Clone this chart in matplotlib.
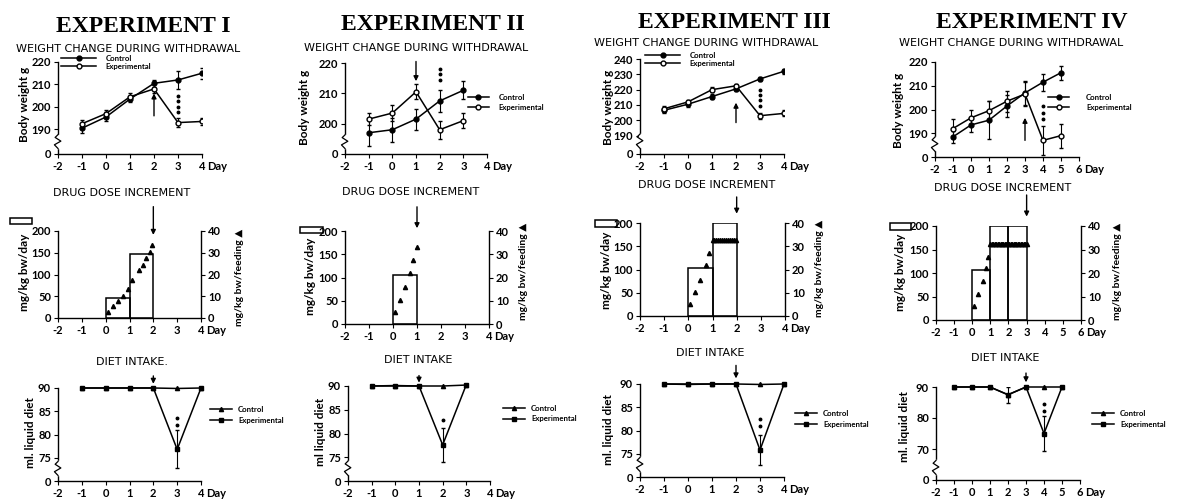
import matplotlib
matplotlib.use('Agg')
import matplotlib.pyplot as plt
from matplotlib.patches import Rectangle

W, H = 1178, 499
plt.rcParams['font.family'] = ['Lato', 'DejaVu Sans']
plt.rcParams['axes.unicode_minus'] = False

# ---------------- weight change during withdrawal (g) ----------------
wt_days_1 = [-1, 0, 1, 2, 3, 4]
wt_ctl_1 = [190.5, 195.5, 203.5, 210.5, 212, 215]
wt_ctl_err_1 = [2, 2, 1.5, 1.5, 4, 2.5]
wt_exp_1 = [192.5, 197, 204.5, 208, 193, 193.5]
wt_exp_err_1 = [1.5, 1.5, 1.5, 2, 2, 1.5]

wt_days_2 = [-1, 0, 1, 2, 3]
wt_ctl_2 = [197, 198, 201.5, 207.5, 211]
wt_ctl_err_2 = [4.5, 4, 3.5, 3.5, 3]
wt_exp_2 = [201.5, 203.5, 210.5, 198, 201]
wt_exp_err_2 = [2, 2.5, 2.5, 3, 2.5]

wt_days_3 = [-1, 0, 1, 2, 3, 4]
wt_ctl_3 = [206.5, 210.5, 215.5, 220.5, 227, 232]
wt_ctl_err_3 = [1.5, 1.5, 1.5, 1.5, 1.5, 1.5]
wt_exp_3 = [207.5, 212, 220, 222.5, 203, 204.5]
wt_exp_err_3 = [2, 1.5, 1.5, 1.5, 2, 2]

wt_days_4 = [-1, 0, 1, 2, 3, 4, 5]
wt_ctl_4 = [188.5, 193.5, 195.5, 201.5, 207, 211.5, 215.5]
wt_ctl_err_4 = [2.5, 3, 8, 4.5, 5, 3.5, 3]
wt_exp_4 = [192, 196.5, 199.5, 203.5, 206.5, 187, 189]
wt_exp_err_4 = [4, 3.5, 4, 4.5, 5, 6, 5]

wt_yticks_1 = [190, 200, 210, 220]
wt_yticks_2 = [200, 210, 220]
wt_yticks_3 = [190, 200, 210, 220, 230, 240]
wt_yticks_4 = [190, 200, 210, 220]

# significance marks (day, values) and withdrawal arrows (day, tail, tip)
wt_sig_day = [3, 2, 3, 4]
wt_sig_1 = [205, 202.5, 200, 197.5]
wt_sig_2 = [218, 216.3, 214.5]
wt_sig_3 = [220, 216.5, 213, 209.5]
wt_sig_4 = [201.5, 198.5, 196]
wt_arrow_1 = (2, 196, 206)
wt_arrow_2 = (1, 220.5, 214)
wt_arrow_3 = (2, 198.5, 211.5)
wt_arrow_4 = (3, 187, 196.5)

# ---------------- drug dose increment ----------------
dose_days_1 = [0, 1]
dose_bar_1 = [46, 148]
dose_tri_x_1 = [0.08, 0.3, 0.5, 0.72, 0.95, 1.1, 1.4, 1.55, 1.7, 1.85, 1.95]
dose_tri_y_1 = [2.6, 5.3, 7.6, 10.2, 13.5, 17.5, 22, 24.5, 27.5, 30.5, 33.5]
dose_plat_x_1 = []

dose_days_2 = [0]
dose_bar_2 = [105]
dose_tri_x_2 = [0.07, 0.29, 0.5, 0.7, 0.84, 1.0]
dose_tri_y_2 = [5, 10.5, 16, 22, 27.5, 33]
dose_plat_x_2 = []

dose_days_3 = [0, 1]
dose_bar_3 = [104, 200]
dose_tri_x_3 = [0.05, 0.28, 0.5, 0.72, 0.87]
dose_tri_y_3 = [5, 10.5, 15.5, 22, 27]
dose_plat_x_3 = [1.0, 1.08, 1.16, 1.24, 1.32, 1.4, 1.48, 1.56, 1.64, 1.72,
                 1.8, 1.88, 1.96]

dose_days_4 = [0, 1, 2]
dose_bar_4 = [106, 200, 200]
dose_tri_x_4 = [0.09, 0.31, 0.57, 0.75, 0.88]
dose_tri_y_4 = [6, 11, 16.5, 22, 27]
dose_plat_x_4 = [1.0, 1.08, 1.16, 1.24, 1.32, 1.4, 1.48, 1.56, 1.64, 1.72,
                 1.8, 1.88, 1.96, 2.04, 2.12, 2.2, 2.28, 2.36, 2.44, 2.52,
                 2.6, 2.68, 2.76, 2.84, 2.92, 3.0]
dose_plateau = 32.5

dose_arrow_1 = (2, 256, 191)
dose_arrow_2 = (1, 252, 206)
dose_arrow_3 = (2, 256, 220)
dose_arrow_4 = (3, 266, 220)

# ---------------- diet intake (ml) ----------------
diet_days_1 = [-1, 0, 1, 2, 3, 4]
diet_ctl_1 = [90, 90, 90, 90, 89.9, 90]
diet_exp_1 = [90, 90, 90, 90, 76.8, 90]
diet_exp_err_1 = [0, 0, 0, 0, 4.1, 0]

diet_days_2 = [-1, 0, 1, 2, 3]
diet_ctl_2 = [90, 90, 90, 90, 90.2]
diet_exp_2 = [90, 90.1, 90, 77.6, 90.3]
diet_exp_err_2 = [0, 0, 0, 3.5, 0]

diet_days_3 = [-1, 0, 1, 2, 3, 4]
diet_ctl_3 = [90, 89.9, 90, 90, 89.9, 90]
diet_exp_3 = [90, 90, 90, 90, 75.8, 90]
diet_exp_err_3 = [0, 0, 0, 0, 3.3, 0]

diet_days_4 = [-1, 0, 1, 2, 3, 4, 5]
diet_ctl_4 = [90, 90, 90, 87.5, 90, 90, 90]
diet_exp_4 = [90, 90, 90, 87.5, 90, 75, 90]
diet_exp_err_4 = [0, 0, 0, 2.5, 0, 5.5, 0]

diet_yticks_1 = [75, 80, 85, 90]
diet_yticks_4 = [70, 80, 90]

diet_sig_day = [3, 2, 3, 4]
diet_sig_1 = [83.5, 82]
diet_sig_2 = [82.8]
diet_sig_3 = [82.5, 81]
diet_sig_4 = [84.5, 82.2]
diet_arrow_1 = (2, 92.6, 90.9)
diet_arrow_2 = (1, 92.2, 90.7)
diet_arrow_3 = (2, 94, 91.2)
diet_arrow_4 = (3, 94.5, 91.5)

titles = ['EXPERIMENT I', 'EXPERIMENT II', 'EXPERIMENT III', 'EXPERIMENT IV']

TICK_FS = 8


def px_axes(fig, left, right, top, bottom):
    return fig.add_axes([left / W, 1 - bottom / H, (right - left) / W, (bottom - top) / H])


def fig_text(fig, x, y, s, **kw):
    fig.text(x / W, 1 - y / H, s, **kw)


def axis_break(ax):
    # little squiggle on the y spine between 0 and the first value
    ax.plot([0, 0], [0.08, 0.2], transform=ax.transAxes, color='white', lw=2.5,
            clip_on=False, zorder=5)
    ax.plot([0, -0.025, 0.02, -0.02, 0], [0.06, 0.1, 0.14, 0.18, 0.21],
            transform=ax.transAxes, color='k', lw=0.9, clip_on=False, zorder=6)


def style_axes(ax, xmax):
    ax.set_xlim(-2, xmax)
    ax.set_xticks(range(-2, xmax + 1))
    ax.spines['top'].set_visible(False)
    ax.spines['right'].set_visible(False)
    for s in ('left', 'bottom'):
        ax.spines[s].set_linewidth(1.0)
    ax.tick_params(direction='out', length=3, width=0.8, labelsize=TICK_FS, pad=2)
    for lab in ax.get_xticklabels() + ax.get_yticklabels():
        lab.set_fontweight('bold')
    ax.annotate('Day', xy=(1, 0), xycoords='axes fraction', xytext=(4, -5),
                textcoords='offset points', ha='left', va='top', fontsize=TICK_FS,
                fontweight='bold')


def draw_arrow(ax, arrow):
    x, tail, tip = arrow
    ax.annotate('', xy=(x, tip), xytext=(x, tail),
                arrowprops=dict(arrowstyle='-|>', lw=1.0, color='k', mutation_scale=7,
                                shrinkA=0, shrinkB=0),
                annotation_clip=False)


def weight_panel(fig, box, days, ctl, ctl_err, exp, exp_err, floor, top, yticks,
                 xmax, sig_day, sig, arrow, leg_xy, leg_kw):
    ax = px_axes(fig, *box)
    ax.errorbar(days, ctl, yerr=ctl_err, fmt='none', ecolor='k', elinewidth=0.8, capsize=1.5)
    ax.errorbar(days, exp, yerr=exp_err, fmt='none', ecolor='k', elinewidth=0.8, capsize=1.5)
    l1, = ax.plot(days, ctl, '-o', color='k', lw=1.1, ms=3.5, mfc='k', label='Control')
    l2, = ax.plot(days, exp, '-o', color='k', lw=1.1, ms=3.5, mfc='white',
                  label='Experimental', zorder=3)
    ax.plot([sig_day] * len(sig), sig, 'o', color='k', ms=1.8)
    draw_arrow(ax, arrow)
    ax.set_ylim(floor, top)
    ax.set_yticks([floor] + yticks, ['0'] + [str(t) for t in yticks])
    style_axes(ax, xmax)
    axis_break(ax)
    ax.legend(handles=[l1, l2], loc='upper left', bbox_to_anchor=(leg_xy[0] / W, 1 - leg_xy[1] / H),
              bbox_transform=fig.transFigure, frameon=False, borderpad=0, borderaxespad=0,
              numpoints=1, prop={'size': 5.6, 'weight': 'bold'}, **leg_kw)
    return ax


def dose_panel(fig, box, days, bars, tri_x, tri_y, plat_x, xmax, arrow):
    ax = px_axes(fig, *box)
    ax.bar(days, bars, width=1, align='edge', fill=False, edgecolor='k', lw=1.1)
    ax.set_ylim(0, 200)
    ax.set_yticks([0, 50, 100, 150, 200])
    style_axes(ax, xmax)
    draw_arrow(ax, arrow)
    ax2 = ax.twinx()
    ax2.set_ylim(0, 40)
    ax2.set_yticks([0, 10, 20, 30, 40])
    for s in ('top', 'left', 'bottom'):
        ax2.spines[s].set_visible(False)
    ax2.spines['right'].set_linewidth(1.0)
    ax2.tick_params(direction='out', length=3, width=0.8, labelsize=TICK_FS, pad=2)
    for lab in ax2.get_yticklabels():
        lab.set_fontweight('bold')
    ax2.plot(tri_x, tri_y, '^', color='k', ms=3)
    if plat_x:
        ax2.plot(plat_x, [dose_plateau] * len(plat_x), '^', color='k', ms=3)
    return ax


def diet_panel(fig, box, days, ctl, exp, exp_err, floor, yticks, xmax, sig_day, sig,
               arrow, leg_xy):
    ax = px_axes(fig, *box)
    l1, = ax.plot(days, ctl, '-^', color='k', lw=1.1, ms=3, label='Control', clip_on=False)
    ax.errorbar(days, exp, yerr=exp_err, fmt='none', ecolor='k', elinewidth=0.8, capsize=1.5)
    l2, = ax.plot(days, exp, '-s', color='k', lw=1.1, ms=3, label='Experimental',
                  clip_on=False)
    ax.plot([sig_day] * len(sig), sig, 'o', color='k', ms=1.8)
    draw_arrow(ax, arrow)
    ax.set_ylim(floor, 90)
    ax.set_yticks([floor] + yticks, ['0'] + [str(t) for t in yticks])
    style_axes(ax, xmax)
    axis_break(ax)
    ax.legend(handles=[l1, l2], loc='upper left', bbox_to_anchor=(leg_xy[0] / W, 1 - leg_xy[1] / H),
              bbox_transform=fig.transFigure, frameon=False, borderpad=0, borderaxespad=0,
              numpoints=1, prop={'size': 5.6, 'weight': 'bold'}, handlelength=2.8,
              handletextpad=0.8, labelspacing=0.45)
    return ax


def main():
    fig = plt.figure(figsize=(W / 100, H / 100), dpi=100)

    # titles
    for cx, cy, t in zip([143, 433, 734, 1032], [27, 25, 23, 22], titles):
        fig_text(fig, cx, cy, t, ha='center', va='center', fontsize=17,
                 fontweight='bold', family='Liberation Serif')
    sub = dict(ha='center', va='center', fontsize=8, family='DejaVu Sans')
    for cx, cy in zip([128, 416, 706, 1011], [49, 48, 43, 43]):
        fig_text(fig, cx, cy, 'WEIGHT CHANGE DURING WITHDRAWAL', **sub)
    for cx, cy in zip([122, 411, 707, 1003], [193, 192, 185, 188]):
        fig_text(fig, cx, cy, 'DRUG DOSE INCREMENT', **sub)
    for cx, cy, t in zip([132, 418, 710, 1005], [362, 360, 353, 358],
                         ['DIET INTAKE.', 'DIET INTAKE', 'DIET INTAKE', 'DIET INTAKE']):
        fig_text(fig, cx, cy, t, **sub)

    # row 1: body weight
    tight = dict(handlelength=4.5, handletextpad=1.2, labelspacing=0.15)
    side = dict(handlelength=2.7, handletextpad=1.2, labelspacing=0.35)
    weight_panel(fig, (58, 202, 62, 154), wt_days_1, wt_ctl_1, wt_ctl_err_1, wt_exp_1,
                 wt_exp_err_1, 179, 220, wt_yticks_1, 4, wt_sig_day[0], wt_sig_1,
                 wt_arrow_1, (61, 55), tight)
    weight_panel(fig, (345, 487, 63, 154), wt_days_2, wt_ctl_2, wt_ctl_err_2, wt_exp_2,
                 wt_exp_err_2, 190, 220, wt_yticks_2, 4, wt_sig_day[1], wt_sig_2,
                 wt_arrow_2, (468, 94), side)
    weight_panel(fig, (640, 784, 59, 154), wt_days_3, wt_ctl_3, wt_ctl_err_3, wt_exp_3,
                 wt_exp_err_3, 178, 240, wt_yticks_3, 4, wt_sig_day[2], wt_sig_3,
                 wt_arrow_3, (645, 52), tight)
    weight_panel(fig, (935, 1079, 62, 157), wt_days_4, wt_ctl_4, wt_ctl_err_4, wt_exp_4,
                 wt_exp_err_4, 180, 220, wt_yticks_4, 6, wt_sig_day[3], wt_sig_4,
                 wt_arrow_4, (1048, 94), dict(handlelength=2.7, handletextpad=2.2,
                                              labelspacing=0.35))
    for x, y in zip([25, 305, 608, 899], [104, 107, 107, 110]):
        fig_text(fig, x, y, 'Body weight g', rotation=90, ha='center', va='center',
                 fontsize=8.5, fontweight='bold')

    # row 2: drug dose
    dose_panel(fig, (58, 201, 231, 318), dose_days_1, dose_bar_1, dose_tri_x_1,
               dose_tri_y_1, dose_plat_x_1, 4, dose_arrow_1)
    dose_panel(fig, (345, 489, 231, 324), dose_days_2, dose_bar_2, dose_tri_x_2,
               dose_tri_y_2, dose_plat_x_2, 4, dose_arrow_2)
    dose_panel(fig, (640, 785, 223, 316), dose_days_3, dose_bar_3, dose_tri_x_3,
               dose_tri_y_3, dose_plat_x_3, 4, dose_arrow_3)
    dose_panel(fig, (936, 1081, 226, 320), dose_days_4, dose_bar_4, dose_tri_x_4,
               dose_tri_y_4, dose_plat_x_4, 6, dose_arrow_4)
    for x, y in zip([25, 310, 606, 900], [272, 276, 270, 272]):
        fig_text(fig, x, y, 'mg/kg bw/day', rotation=90, ha='center', va='center',
                 fontsize=8.5, fontweight='bold')
    for x, y in zip([240, 523, 820, 1118], [277, 271, 268, 271]):
        fig_text(fig, x, y, 'mg/kg bw/feeding \u25b2', rotation=90, ha='center',
                 va='center', fontsize=7.5, fontweight='bold')
    for x0, x1, y0, y1 in [(10, 32, 218, 224), (300, 323, 227, 233),
                           (595, 617, 220, 227), (890, 911, 223, 230)]:
        fig.patches.append(Rectangle((x0 / W, 1 - y1 / H), (x1 - x0) / W, (y1 - y0) / H,
                                     transform=fig.transFigure, fill=False,
                                     edgecolor='k', lw=1.1))

    # row 3: diet intake
    diet_panel(fig, (58, 201, 388, 481), diet_days_1, diet_ctl_1, diet_exp_1,
               diet_exp_err_1, 70, diet_yticks_1, 4, diet_sig_day[0], diet_sig_1,
               diet_arrow_1, (210, 406))
    diet_panel(fig, (348, 490, 386, 481), diet_days_2, diet_ctl_2, diet_exp_2,
               diet_exp_err_2, 70, diet_yticks_1, 4, diet_sig_day[1], diet_sig_2,
               diet_arrow_2, (503, 405))
    diet_panel(fig, (640, 784, 384, 477), diet_days_3, diet_ctl_3, diet_exp_3,
               diet_exp_err_3, 70, diet_yticks_1, 4, diet_sig_day[2], diet_sig_3,
               diet_arrow_3, (795, 410))
    diet_panel(fig, (936, 1080, 387, 480), diet_days_4, diet_ctl_4, diet_exp_4,
               diet_exp_err_4, 60, diet_yticks_4, 6, diet_sig_day[3], diet_sig_4,
               diet_arrow_4, (1092, 410))
    for x, y, t in zip([30, 321, 608, 904], [433, 432, 430, 427],
                       ['ml. liquid diet', 'ml liquid diet', 'ml. liquid diet',
                        'ml. liquid diet']):
        fig_text(fig, x, y, t, rotation=90, ha='center', va='center', fontsize=8.5,
                 fontweight='bold')

    fig.savefig('out.png', dpi=100)


if __name__ == '__main__':
    main()
